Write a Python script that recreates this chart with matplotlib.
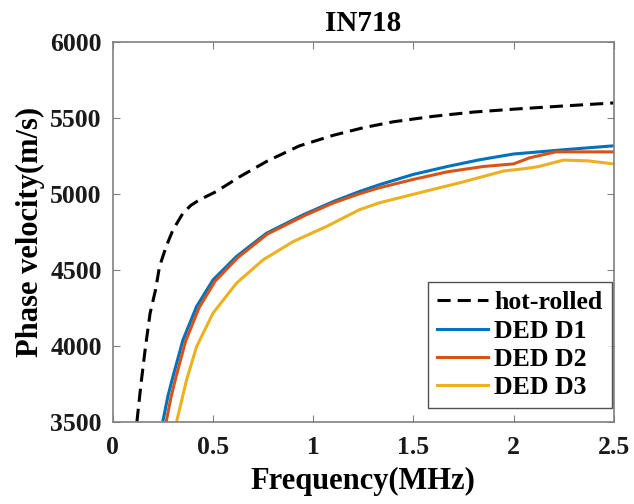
import matplotlib.pyplot as plt

plt.rcParams['font.family'] = ['Liberation Serif', 'DejaVu Serif']
plt.rcParams['font.weight'] = 'bold'

# hot-rolled reference
f_hot = [0.12, 0.141, 0.163, 0.186, 0.213, 0.233, 0.266, 0.30, 0.35, 0.39, 0.433, 0.516,
         0.63, 0.77, 0.93, 1.10, 1.25, 1.40, 1.60, 1.80, 2.00, 2.25, 2.50]
v_hot = [3500, 3755, 3995, 4215, 4368, 4522, 4653, 4763, 4873, 4925, 4961, 5015,
         5110, 5215, 5315, 5385, 5435, 5474, 5510, 5538, 5557, 5578, 5598]

# DED D1
f_d1 = [0.251, 0.275, 0.30, 0.35, 0.418, 0.50, 0.617, 0.767, 0.95, 1.10, 1.23, 1.33,
        1.50, 1.67, 1.83, 2.00, 2.25, 2.50]
v_d1 = [3513, 3670, 3798, 4039, 4259, 4434, 4588, 4741, 4862, 4949, 5015, 5060,
        5128, 5180, 5224, 5262, 5290, 5316]

# DED D2
f_d2 = [0.266, 0.29, 0.314, 0.363, 0.43, 0.51, 0.625, 0.772, 0.955, 1.10, 1.23, 1.33,
        1.50, 1.67, 1.85, 2.00, 2.08, 2.21, 2.33, 2.50]
v_d2 = [3500, 3660, 3790, 4030, 4250, 4425, 4582, 4736, 4856, 4940, 5000, 5040,
        5095, 5145, 5180, 5197, 5237, 5276, 5276, 5276]

# DED D3
f_d3 = [0.318, 0.368, 0.418, 0.50, 0.617, 0.75, 0.90, 1.066, 1.23, 1.33, 1.43, 1.60, 1.75,
        1.95, 2.05, 2.12, 2.25, 2.37, 2.50]
v_d3 = [3500, 3776, 3995, 4215, 4412, 4566, 4686, 4785, 4895, 4941, 4974, 5030, 5079,
        5150, 5165, 5178, 5222, 5217, 5197]

xticks = [0, 0.5, 1, 1.5, 2, 2.5]
xtick_labels = ['0', '0.5', '1', '1.5', '2', '2.5']
yticks = [3500, 4000, 4500, 5000, 5500, 6000]

fig = plt.figure(figsize=(6.34, 5.04), dpi=100)
ax = fig.add_axes([0.178, 0.163, 0.790, 0.754])

ax.plot(f_hot, v_hot, '--', color='black', lw=2.2, dashes=(4.3, 2.3), label='hot-rolled')
ax.plot(f_d1, v_d1, color='#0072BD', lw=2.2, label='DED D1')
ax.plot(f_d2, v_d2, color='#D95319', lw=2.2, label='DED D2')
ax.plot(f_d3, v_d3, color='#EDB120', lw=2.2, label='DED D3')

ax.set_xlim(0, 2.5)
ax.set_ylim(3500, 6000)
ax.set_xticks(xticks)
ax.set_xticklabels(xtick_labels)
ax.set_yticks(yticks)

ax.tick_params(direction='in', top=True, right=True, labelsize=18.5, length=5)
ax.tick_params(axis='x', pad=10)
ax.tick_params(axis='y', pad=8)
ax.tick_params(colors='#808080', labelcolor='#1a1a1a')
for s in ax.spines.values():
    s.set_color('#808080')
    s.set_linewidth(1.2)

ax.set_xlabel('Frequency(MHz)', fontsize=22, fontweight='bold', labelpad=6)
ax.set_ylabel('Phase velocity(m/s)', fontsize=22, fontweight='bold', labelpad=4)
ax.set_title('IN718', fontsize=21, fontweight='bold', pad=8)

leg = ax.legend(loc='lower right', bbox_to_anchor=(0.996, 0.037), fontsize=18.5,
                handlelength=2.0, fancybox=False, borderaxespad=0, handletextpad=0.25,
                labelspacing=0.2, borderpad=0.35)
leg.get_frame().set_edgecolor('#262626')
leg.get_frame().set_linewidth(1.0)

fig.savefig('out.png', dpi=100)
